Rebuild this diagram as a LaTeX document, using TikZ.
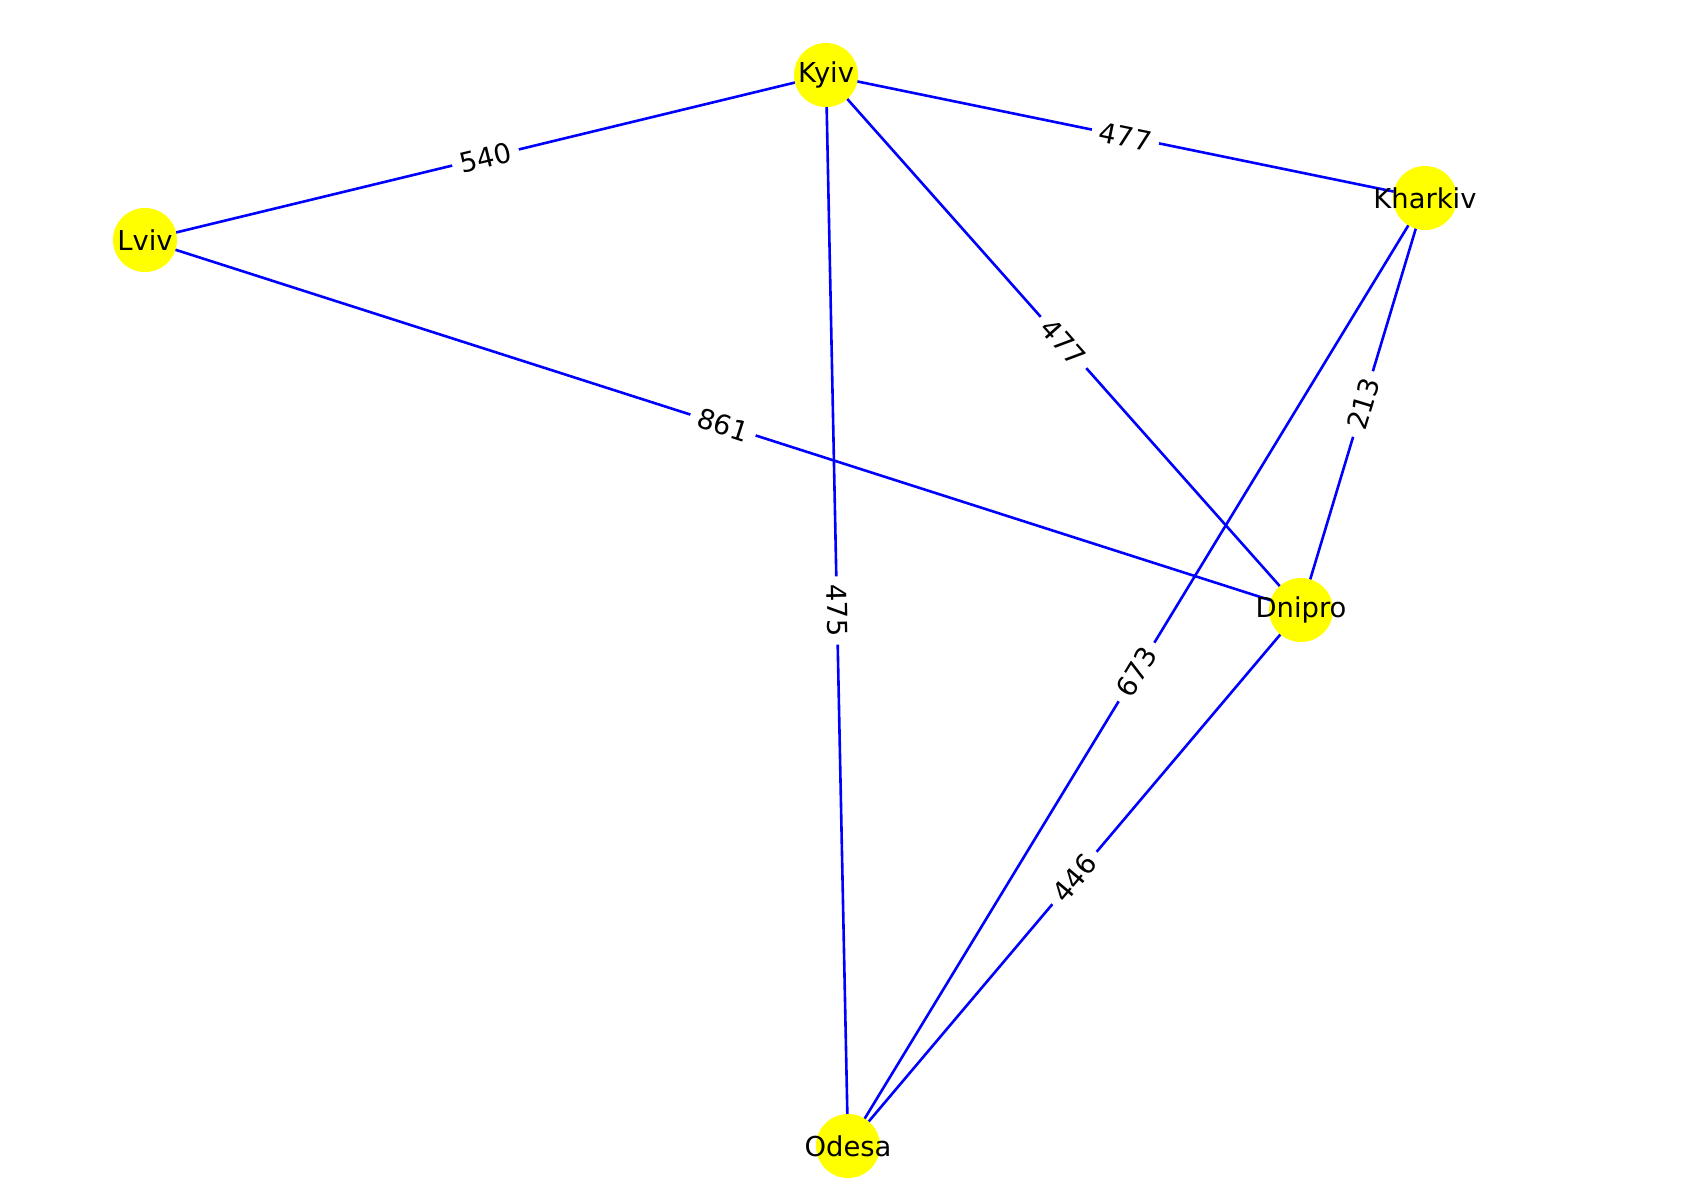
\documentclass[tikz,border=0pt]{standalone}
\usepackage{fontspec}
\setmainfont{DejaVu Sans}
\usetikzlibrary{backgrounds}
\definecolor{cityyellow}{RGB}{255,255,0}
\definecolor{roadblue}{RGB}{0,0,255}

\begin{document}
\begin{tikzpicture}[
  x=1pt, y=-1pt,
  city/.style={circle, fill=cityyellow, minimum size=64pt, inner sep=0pt, font=\fontsize{27.4}{30}\selectfont},
  road/.style={draw=roadblue, line width=2.6pt},
  dist/.style={fill=white, inner sep=8pt, rounded corners=6pt, sloped, midway, font=\fontsize{27.4}{30}\selectfont}
]
\useasboundingbox (0,0) rectangle (1682,1203);

\node[city] (kyiv) at (826,75) {\makebox[0pt]{Kyiv}};
\node[city] (lviv) at (145,240) {\makebox[0pt]{Lviv}};
\node[city] (kharkiv) at (1425,198) {\makebox[0pt]{Kharkiv}};
\node[city] (dnipro) at (1301,610) {\makebox[0pt]{Dnipro}};
\node[city] (odesa) at (848,1146) {\makebox[0pt]{Odesa}};

\begin{scope}[on background layer]
\draw[road] (kyiv.center) -- (lviv.center) node[dist] {540};
\draw[road] (kyiv.center) -- (kharkiv.center) node[dist] {477};
\draw[road] (kyiv.center) -- (dnipro.center) node[dist] {477};
\draw[road] (kyiv.center) -- (odesa.center) node[dist] {475};
\draw[road] (lviv.center) -- (dnipro.center) node[dist] {861};
\draw[road] (kharkiv.center) -- (dnipro.center) node[dist] {213};
\draw[road] (kharkiv.center) -- (odesa.center) node[dist] {673};
\draw[road] (dnipro.center) -- (odesa.center) node[dist] {446};
\end{scope}

\end{tikzpicture}
\end{document}
